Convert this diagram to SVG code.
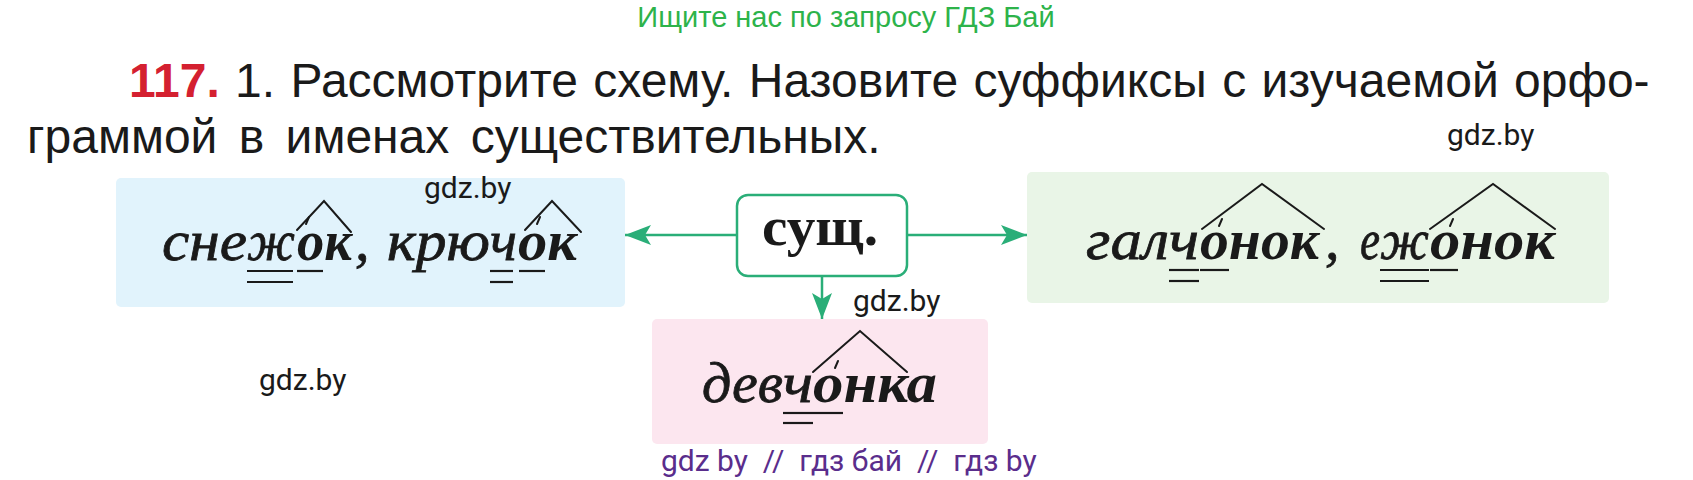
<svg xmlns="http://www.w3.org/2000/svg" width="1693" height="480" viewBox="0 0 1693 480">
<style>
  .sans { font-family: "Liberation Sans", Arial, sans-serif; }
  .title { font-family: "Liberation Sans", Arial, sans-serif; font-size: 48px; fill: #1a1a1a; }
  .wm { font-family: Roboto, "Liberation Sans", sans-serif; font-size: 30px; fill: #1a1a1a; }
  .word { font-family: "Liberation Serif", "Times New Roman", serif; font-style: italic; font-size: 58px; fill: #1a1a1a; }
  .it { stroke: #1a1a1a; stroke-width: 0.8; }
  .itb { font-weight: bold; }
  .mark { stroke: #1a1a1a; stroke-width: 2; fill: none; stroke-linecap: round; stroke-linejoin: miter; }
  .ul { stroke: #1a1a1a; stroke-width: 2.2; }
  .conn { stroke: #2aae78; stroke-width: 2.5; fill: none; }
</style>
<defs>
  <marker id="ah" markerUnits="userSpaceOnUse" markerWidth="28" markerHeight="22" refX="26" refY="10" orient="auto">
    <path d="M0,0 L26,10 L0,20 L6,10 z" fill="#2aae78"/>
  </marker>
</defs>
<rect width="1693" height="480" fill="#ffffff"/>

<g id="header">
  <text class="sans" x="846" y="27" text-anchor="middle" font-size="29" fill="#2db34a">Ищите нас по запросу ГДЗ Бай</text>
</g>

<g id="title">
  <text class="title" x="129" y="97" word-spacing="2"><tspan font-weight="bold" fill="#d42030">117.</tspan> 1. Рассмотрите схему. Назовите суффиксы с изучаемой орфо-</text>
  <text class="title" x="27" y="153" word-spacing="8">граммой в именах существительных.</text>
</g>

<g id="connectors">
  <line class="conn" x1="737" y1="235" x2="625" y2="235" marker-end="url(#ah)"/>
  <line class="conn" x1="907" y1="235" x2="1027" y2="235" marker-end="url(#ah)"/>
  <line class="conn" x1="822" y1="276" x2="822" y2="319" marker-end="url(#ah)"/>
</g>

<g id="node-sush">
  <rect x="737" y="195" width="170" height="81" rx="11" fill="#ffffff" stroke="#2aae78" stroke-width="2.5"/>
  <text x="762" y="245" font-family="'Liberation Serif', 'Times New Roman', serif" font-weight="bold" font-size="54" fill="#1a1a1a" textLength="116" lengthAdjust="spacingAndGlyphs">сущ.</text>
</g>

<g id="node-blue">
  <rect x="116" y="178" width="509" height="129" rx="5" fill="#e1f3fc"/>
  <text class="word" y="260"><tspan class="it" x="162" textLength="85" lengthAdjust="spacingAndGlyphs">сне</tspan><tspan class="it" x="247" textLength="48" lengthAdjust="spacingAndGlyphs">ж</tspan><tspan class="itb" x="297" textLength="55" lengthAdjust="spacingAndGlyphs">ок</tspan><tspan class="it" x="355">,</tspan></text>
  <text class="word" y="260"><tspan class="it" x="387" textLength="103" lengthAdjust="spacingAndGlyphs">крю</tspan><tspan class="it" x="490" textLength="27" lengthAdjust="spacingAndGlyphs">ч</tspan><tspan class="itb" x="518" textLength="59" lengthAdjust="spacingAndGlyphs">ок</tspan></text>
  <polyline class="mark" points="297,230 324,201 351,232"/>
  <line class="mark" x1="309" y1="217" x2="306" y2="224"/>
  <polyline class="mark" points="525,230 552,201 581,232"/>
  <line class="mark" x1="540" y1="217" x2="537" y2="224"/>
  <line class="ul" x1="247" y1="271" x2="293" y2="271"/>
  <line class="ul" x1="247" y1="282" x2="293" y2="282"/>
  <line class="ul" x1="297" y1="271" x2="323" y2="271"/>
  <line class="ul" x1="490" y1="271" x2="513" y2="271"/>
  <line class="ul" x1="490" y1="282" x2="513" y2="282"/>
  <line class="ul" x1="519" y1="271" x2="545" y2="271"/>
</g>

<g id="node-green">
  <rect x="1027" y="172" width="582" height="131" rx="5" fill="#e9f5e7"/>
  <text class="word" y="259"><tspan class="it" x="1086" textLength="83" lengthAdjust="spacingAndGlyphs">гал</tspan><tspan class="it" x="1169" textLength="30" lengthAdjust="spacingAndGlyphs">ч</tspan><tspan class="itb" x="1200" textLength="119" lengthAdjust="spacingAndGlyphs">онок</tspan><tspan class="it" x="1325">,</tspan></text>
  <text class="word" y="259"><tspan class="it" x="1360" textLength="20" lengthAdjust="spacingAndGlyphs">е</tspan><tspan class="it" x="1380" textLength="49" lengthAdjust="spacingAndGlyphs">ж</tspan><tspan class="itb" x="1430" textLength="125" lengthAdjust="spacingAndGlyphs">онок</tspan></text>
  <polyline class="mark" points="1202,229 1262,184 1324,229"/>
  <line class="mark" x1="1222" y1="219" x2="1219" y2="226"/>
  <polyline class="mark" points="1430,229 1493,184 1555,229"/>
  <line class="mark" x1="1453" y1="219" x2="1450" y2="226"/>
  <line class="ul" x1="1169" y1="270" x2="1199" y2="270"/>
  <line class="ul" x1="1169" y1="281" x2="1199" y2="281"/>
  <line class="ul" x1="1200" y1="270" x2="1229" y2="270"/>
  <line class="ul" x1="1380" y1="270" x2="1429" y2="270"/>
  <line class="ul" x1="1380" y1="281" x2="1429" y2="281"/>
  <line class="ul" x1="1430" y1="270" x2="1458" y2="270"/>
</g>

<g id="node-pink">
  <rect x="652" y="319" width="336" height="125" rx="5" fill="#fce6ef"/>
  <text class="word" y="402"><tspan class="it" x="702" textLength="81" lengthAdjust="spacingAndGlyphs">дев</tspan><tspan class="it" x="783" textLength="30" lengthAdjust="spacingAndGlyphs">ч</tspan><tspan class="itb" x="813" textLength="124" lengthAdjust="spacingAndGlyphs">онка</tspan></text>
  <polyline class="mark" points="813,372 860,331 907,372"/>
  <line class="mark" x1="838" y1="361" x2="835" y2="368"/>
  <line class="ul" x1="783" y1="413" x2="813" y2="413"/>
  <line class="ul" x1="783" y1="423" x2="813" y2="423"/>
  <line class="ul" x1="813" y1="413" x2="843" y2="413"/>
</g>

<g id="watermarks">
  <text class="wm" x="1447" y="145">gdz.by</text>
  <text class="wm" x="424" y="198">gdz.by</text>
  <text class="wm" x="853" y="311">gdz.by</text>
  <text class="wm" x="259" y="390">gdz.by</text>
  <text class="wm" x="661" y="471" font-size="29" style="fill:#5a2d8c; white-space:pre" xml:space="preserve">gdz by  //  гдз бай  //  гдз by</text>
</g>
</svg>
